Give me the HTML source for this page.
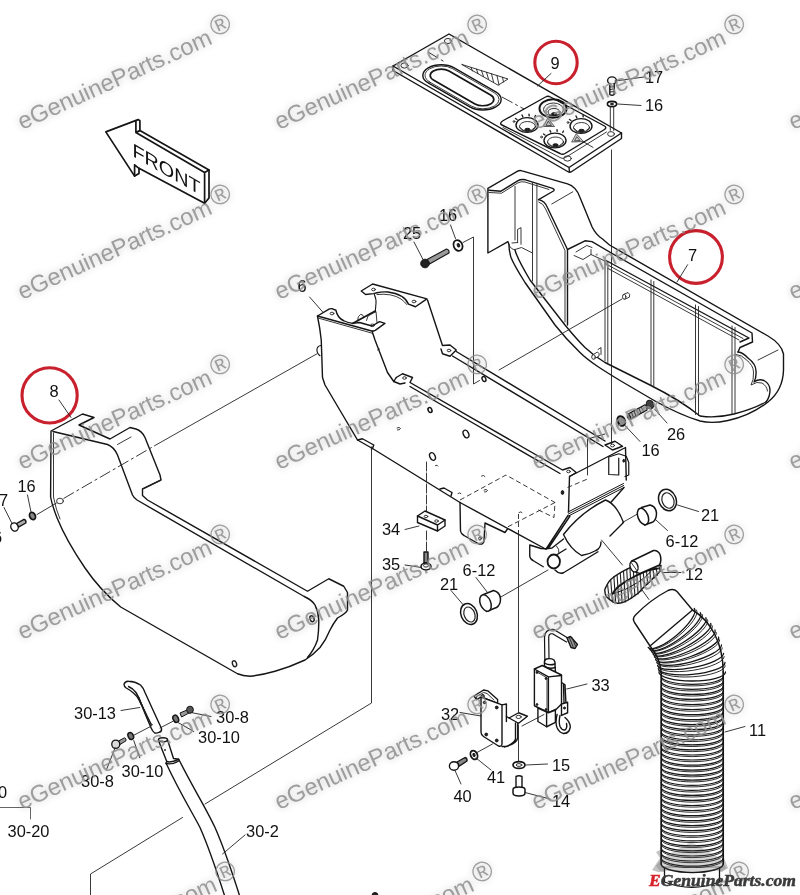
<!DOCTYPE html>
<html><head><meta charset="utf-8"><title>Parts diagram</title>
<style>
html,body{margin:0;padding:0;background:#fff;}
body{width:800px;height:895px;overflow:hidden;position:relative;font-family:"Liberation Sans",sans-serif;}
svg{position:absolute;left:0;top:0;display:block;will-change:transform}
.l{fill:none;stroke:#151515;stroke-width:1.4;stroke-linecap:round;stroke-linejoin:round}
.w{fill:#fff;stroke:#151515;stroke-width:1.4;stroke-linecap:round;stroke-linejoin:round}
.t{fill:none;stroke:#222;stroke-width:0.9;stroke-linecap:round;stroke-linejoin:round}
.tw{fill:#fff;stroke:#222;stroke-width:0.9;stroke-linecap:round;stroke-linejoin:round}
.k{fill:#222;stroke:#151515;stroke-width:1}
.h{fill:none;stroke:#151515;stroke-width:1.7;stroke-linecap:round;stroke-linejoin:round}
.d{fill:none;stroke:#222;stroke-width:0.9;stroke-dasharray:5 3}
.dd{fill:none;stroke:#222;stroke-width:0.9;stroke-dasharray:12 3 3 3}
.lab{font-family:"Liberation Sans",sans-serif;font-size:16.4px;fill:#111;text-anchor:middle}
.rc{fill:none;stroke:#c9202d;stroke-width:3.1}
.wm{font-family:"Liberation Sans",sans-serif;font-size:23.8px;fill:#8e8e8e;fill-opacity:0.85;filter:drop-shadow(0 0 3.5px rgba(0,0,0,0.24))}
</style></head><body>
<svg width="800" height="895" viewBox="0 0 800 895">
<rect width="800" height="895" fill="#fff"/>
<!-- 10_front.svg -->
<g class="h">
<path d="M105.8 131.9 L138.1 119.6 L139.9 120.7 L139.9 130.6 L209 170 L209 198 L204.6 203.3 L139 168.3 L139 173.5 L134.6 176.1 Z" fill="#fff"/>
<path d="M135.9 121 L135.9 132.4 L204.6 172.6 L204.6 203.3 M204.6 172.6 L209 170 M135.9 132.4 L139.9 130.6 M134.6 164.8 L134.6 176.1 M134.6 164.8 L139 168.3"/>
</g>
<text transform="matrix(1.04 0.6 0 1 132.500 156)" style="font-family:'Liberation Sans',sans-serif;font-size:19px;fill:#111">FRONT</text>

<!-- 20_panel9.svg -->
<g id="panel9">
<!-- plate outer with thickness -->
<path class="w" d="M393 66 L449 34 L621.5 133 L621.5 138.5 L571 172 L568.5 172 L393 70.5 Z"/>
<path class="l" d="M393 66 L569 167.5 L621.5 133 M569 167.5 L569.5 172"/>
<!-- corner holes -->
<ellipse class="t" cx="404.5" cy="65.5" rx="3.6" ry="2.6"/>
<ellipse class="t" cx="448" cy="41" rx="3.6" ry="2.6"/>
<ellipse class="t" cx="567.5" cy="158.5" rx="3.8" ry="2.6"/>
<ellipse class="t" cx="611" cy="134" rx="3.4" ry="2.4"/>
<!-- oval slot -->
<g transform="matrix(0.866 0.5 0.866 -0.5 462 87.400)">
<rect class="l" x="-39" y="-15" width="78" height="30" rx="15" ry="15" vector-effect="non-scaling-stroke"/>
<rect class="t" x="-37.300" y="-13.300" width="74.600" height="26.600" rx="13.300" ry="13.300" vector-effect="non-scaling-stroke"/>
<rect class="l" x="-33" y="-9" width="66" height="18" rx="9" ry="9" style="stroke-width:1.700" vector-effect="non-scaling-stroke"/>
</g>
<!-- bar graph wedge -->
<path class="t" d="M462 64.5 L508 79 L498.5 85 Z M471 67.4 L472.5 71 M476.5 69.1 L478 73.6 M481.5 70.7 L483.5 76.4 M486.5 72.3 L488.5 79 M491.5 73.9 L493.5 82 M497 75.6 L499 85 M502.5 77.3 L503.5 82"/>
<!-- dash line through centre -->
<path class="dd" d="M428 52 L444 61.5 M502 97 L524 109 M583 141.5 L594 148"/>
<!-- sub panel -->
<path class="l" d="M501 124.5 Q500 122.5 502.5 121 L545.5 97 Q548 95.5 550.5 97 L604.5 126 Q607 127.5 604.5 129.5 L565 153.5 Q562.5 155 560 153.5 Z"/>
<path class="t" d="M503 127.5 L561 158 Q563 159 565.5 157.5 L606.5 132"/>
<!-- knobs -->
<g>
<ellipse class="l" cx="553" cy="108.5" rx="13.5" ry="9.2" style="stroke-width:2"/>
<ellipse class="t" cx="553.5" cy="109.5" rx="10" ry="6.5"/>
<ellipse class="t" cx="554" cy="112" rx="6" ry="3.6"/>
<ellipse class="k" cx="554" cy="114" rx="2.5" ry="1.3"/>
</g>
<g>
<ellipse class="l" cx="527" cy="125" rx="11" ry="7.4"/>
<ellipse class="t" cx="527.5" cy="126.5" rx="8" ry="5"/>
<path class="t" d="M519.5 127 Q527 136 535.5 127"/>
<ellipse class="k" cx="527.5" cy="129.5" rx="2.6" ry="1.2"/>
</g>
<g>
<ellipse class="l" cx="581" cy="126" rx="11" ry="7.4"/>
<ellipse class="t" cx="581.5" cy="127.5" rx="8" ry="5"/>
<path class="t" d="M573.5 128 Q581 137 589.5 128"/>
<ellipse class="k" cx="581.5" cy="130.5" rx="2.6" ry="1.2"/>
</g>
<g>
<ellipse class="l" cx="555" cy="140.5" rx="11" ry="7.4"/>
<ellipse class="t" cx="555.5" cy="142" rx="8" ry="5"/>
<path class="t" d="M547.5 142.500 Q555 151.500 563.500 142.500"/>
<ellipse class="k" cx="555.5" cy="145" rx="2.6" ry="1.2"/>
</g>
<!-- tick marks around knobs -->
<path class="t" d="M515.5 118.500 l1.500 1 M522 115 l0.800 1.600 M529 114.200 l0.200 1.600 M535.500 115.500 l-0.800 1.500 M569.500 119.500 l1.500 1 M576 116 l0.800 1.600 M583 115.200 l0.200 1.600 M543.500 134 l1.500 1 M550 130.500 l0.800 1.600 M557 129.700 l0.200 1.600 M563.500 131 l-0.800 1.500" style="stroke-width:1.4"/>
<circle class="t" cx="514" cy="121.500" r="0.900"/>
<circle class="t" cx="541.500" cy="137" r="0.900"/>
<circle class="t" cx="568" cy="122.500" r="0.900"/>
<!-- warning triangles -->
<path class="t" d="M548 118.500 L554.500 126.500 L543.500 126.500 Z M548.500 121.500 L551.500 125.500 L546.500 125.500 Z" style="fill:#ccc;stroke-width:0.700"/>
<path class="t" d="M576.500 134 L583.500 141.500 L572 142 Z M577 137 L580 140.500 L575 140.800 Z" style="fill:#ccc;stroke-width:0.700"/>
</g>
<!-- bolt 17 / washer 16 -->
<g id="b17">
<ellipse class="w" cx="612" cy="80.500" rx="4.400" ry="3.600"/>
<path class="w" d="M609.800 83.500 L609.800 94.500 Q612 96 614.200 94.500 L614.200 83.500"/>
<path class="t" d="M609.800 87 L614.200 86.500 M609.800 89.500 L614.200 89 M609.800 92 L614.200 91.500"/>
<ellipse class="w" cx="612" cy="104" rx="4.600" ry="2.600" style="stroke-width:1.6"/>
<ellipse class="k" cx="612" cy="104" rx="1.600" ry="0.800"/>
<path class="t" d="M610.300 107 L610.300 130.500 M613.700 107 L613.700 130.500"/>
<path class="t" d="M611.500 150 L611.500 444"/>
<path class="t" d="M615 81 L644 77 M617.500 104 L641 105.500"/>
</g>
<text class="lab" x="654" y="83">17</text>
<text class="lab" x="654" y="111">16</text>
<!-- red circle 9 -->
<circle class="rc" cx="556" cy="62.500" r="21.200"/>
<text class="lab" x="555" y="68.500">9</text>
<path class="t" d="M551 73.500 L537.500 86"/>

<!-- 30_part7.svg -->
<g id="part7">
<!-- outer silhouette -->
<path class="l" d="M487.900 188.300 L516.800 171.600 Q519.500 170 522 170.800 L567.500 183.900 Q576 186.500 579.800 197 L592 226.800 Q596 235 602.500 239 Q606 242 609.500 245 L768 336 Q781.500 344 783.500 354 L783.500 370 Q783 390 768 402 Q750 416 728 420.500 Q712 424 700 421 Q680 415 655 401 L620 380.500 Q606 372 597 366 Q586 358.500 580 352.500 Q566 339 555 325 L525 282.500 Q514 265 511 257.500 Q509 251 508.900 244.300 L508 241.600 L487.900 253 Z"/>
<!-- flap thickness/inner lines -->
<path class="l" d="M488.800 190.300 L501 191.200 L517.600 180.800 Q521 179 525.500 179.800 L552.600 188.300 Q555 189.500 553.500 191 L538.600 199.600"/>
<path class="t" d="M489 192.500 L501.500 193.200 L518 182.800 Q521 181.200 525 182 L549 189.500"/>
<path class="l" d="M538.600 199.600 Q545 201 547.400 207.500 L567.500 249.500 L567.500 325"/>
<path class="t" d="M538.800 202 Q543.500 203.500 545.600 209 L565 250.500 L565 322"/>
<path class="t" d="M551.800 204 L572.800 191.800"/>
<!-- inner verticals -->
<path class="t" d="M515 186.500 L515 240 M532.500 183 L532.500 281 M536.900 184.500 L536.900 287"/>
<path class="t" d="M517.600 242.500 L517.600 229.400 L521 227.600 L521 244.300 M508.900 244.300 Q511 250 515 249.500 L521.500 247.500 L532.500 253 M512 243 L517.600 242.500"/>
<!-- inner lower curve -->
<path class="l" d="M515 250 Q517 258 530 280 L565 325 Q576 338.500 585 347.500 Q594 356 605 362.500 L650 385 Q680 400 700 416 Q716 418.500 734 414 Q752 409.500 766 402"/>
<!-- top rail lines -->
<path class="l" d="M567.500 249.500 L585 240.800 L592 241.600 L613 254 L752 333 L752.500 342 L740 347.500 L738 352"/>
<path class="t" d="M576 252 L586.800 245.500 L592 247.500 M574 255.500 L583 259.500 L591 254.500 L606 261.500 M591 254.500 L591 249.500"/>
<path class="l" d="M606 260.500 L749 338 L740 342"/>
<path class="t" d="M606 264 L743 338.500"/>
<path class="t" d="M608 268.500 L739 340"/>
<!-- right end inner curve -->
<path class="l" d="M738 352 Q743 352.500 748 358 Q756 364 756 371 Q756.500 378 754 382 Q759 378.500 764 380.500 Q770 384 770 390 Q770 397 766 402"/>
<path class="t" d="M736 354.500 Q742 355 746 359.500 Q753.500 365.500 753.500 372 Q754 380 751 385 Q757 381 762 383 Q767 386 767.500 391"/>
<path class="t" d="M758 360 L778 350"/>
<!-- ribs -->
<path class="t" d="M605 261 L605 361 M607.800 262.500 L607.800 362.500 M651 280 L651 385.500 M653.800 281.500 L653.800 387 M695.500 305 L695.500 414.500 M698.500 306.500 L698.500 415.500 M732 326 L732 414 M735 327.500 L735 413.500"/>
<!-- boss & peg -->
<path class="tw" d="M592.500 355 L597.500 352 Q600 353.500 599 356 L594 359 Z"/>
<ellipse class="tw" cx="593.500" cy="357" rx="1.800" ry="2.200"/>
<path class="t" d="M598 349.500 L601 347.500 L601 354.500"/>
<path class="tw" d="M623.500 294.500 L628 292.500 Q630.500 294 629.500 297 L625 299.200 Z"/>
<ellipse class="tw" cx="624.200" cy="296.800" rx="1.700" ry="2.400"/>
</g>
<circle class="rc" cx="696" cy="257" r="26.400"/>
<text class="lab" x="692.500" y="260.500">7</text>
<path class="t" d="M687.600 264.750 L677 282"/>
<!-- leader line from peg to part6 -->
<path class="t" d="M499 370 L622 299"/>

<!-- 40_part6.svg -->
<g id="part6">
<!-- near-left flange -->
<path class="l" d="M317.500 316 L329 309.200 Q330.600 308.300 332.500 308.800 L335.900 310.250 Q337.500 318 343.750 320.750 Q347 322.500 352.500 323.400 L359.500 322.500 L372 326 L379.600 321.600 L384.900 323.400 L375.250 330.400 L372.600 331.250"/>
<path class="l" d="M317.500 316 L372.600 331.250"/>
<path class="t" d="M318 318 L372.500 333.300"/>
<ellipse class="t" cx="332" cy="313.500" rx="1.900" ry="1.300"/>
<ellipse class="t" cx="372.500" cy="325.300" rx="1.900" ry="1.300"/>
<path class="l" d="M352.500 323.400 L375.250 311" style="stroke-width:1.700"/>
<path class="t" d="M357.750 320 Q357.500 316 360.500 314.500 Q363 314 363.500 316.500 M366.500 320.500 L368 316 L376 311.500 L377 322.500" />
<!-- upper bracket -->
<path class="l" d="M361.250 291 L372.600 284 L426.900 298.900 L415.500 306.750 L408.500 304.100 Q404 294 388 292 Q382 291.500 377 292.750 L373.500 293.600 L365.600 294.500 Z"/>
<path class="t" d="M377 294.500 Q392 293 401 299 Q405 302 406.800 304.500"/>
<ellipse class="t" cx="373.500" cy="289.500" rx="1.900" ry="1.300"/>
<ellipse class="t" cx="414" cy="301.500" rx="1.900" ry="1.300"/>
<path class="l" d="M374.400 294.500 Q376.500 300 376 303.250 L375.250 312" style="stroke-width:1.100"/>
<!-- right side of top bracket and far rail -->
<path class="l" d="M427.500 300 L442.500 345.500 L450 345 L456.250 350 L450 356.250 L442.500 353.750 L441 349"/>
<ellipse class="t" cx="449" cy="350.500" rx="1.800" ry="1.300"/>
<path class="l" d="M456.250 351.500 L605 441"/>
<path class="l" d="M452.500 356 L603 446.500"/>
<!-- left face -->
<path class="l" d="M317.500 316.250 Q320 328 321.250 340 L322.500 377.500 L325 385 L357.500 440 L362.500 438.750 L373.750 445 L372.500 448.500"/>
<path class="l" d="M321 345.500 Q317.500 346 317 349 Q316.500 353 320 355.750" style="stroke-width:1.100"/>
<path class="l" d="M357.500 440 L372.500 448.500 L460 502.500 M371.500 447.500 L371.500 449"/>
<!-- inner wall -->
<path class="l" d="M372.500 332.500 L375 340 L387.500 372.500 L393.750 381.500 L396.250 377.500"/>
<path class="t" d="M377.500 350 L379.500 349"/>
<!-- near rail -->
<path class="l" d="M396.250 377.500 L402.500 373.750 L412.500 377.500 L410 382.500 L562.500 470 L570 467.500 L576.250 472.500 L570 476.250"/>
<path class="l" d="M393.750 381.500 L400 384 L405 383 M410 386.500 L560 473.500"/>
<ellipse class="t" cx="404.500" cy="378" rx="1.800" ry="1.300"/>
<ellipse class="t" cx="568.500" cy="471.500" rx="1.800" ry="1.300"/>
<!-- holes -->
<ellipse class="l" cx="430" cy="410" rx="1.800" ry="2.600" transform="rotate(-25 430 410)" style="stroke-width:1.6"/>
<ellipse class="l" cx="466" cy="434" rx="2.600" ry="4" transform="rotate(-25 466 434)"/>
<ellipse class="l" cx="432.500" cy="456.500" rx="2.600" ry="4" transform="rotate(-25 432.500 456.500)"/>
<ellipse class="l" cx="484" cy="379" rx="1.800" ry="2.600" transform="rotate(-25 484 379)"/>
<path class="t" d="M397 428 q2.500 -1.500 3.500 0.500 q-1 2 -3 1.500 M435.500 465.500 q2 -1 2.500 0.500 M481.500 476 q2.500 -1.500 3.500 0.500 M484 490 q2.500 -1.500 3.500 0.500 q-1 2 -3 1.500 M519 512.500 q2 -1.500 3 0 M458 493.500 q2 -1.500 3 0"/>
<ellipse class="k" cx="562.500" cy="492.500" rx="1.300" ry="2"/>
<!-- end face -->
<path class="l" d="M570 476.250 L625.500 447.500 L626.250 480 M569.500 476.250 L568.500 512"/>
<path class="l" d="M605 445 L615 441.250 L622.500 446.250 L612.500 450 Z"/>
<ellipse class="t" cx="612.500" cy="445.500" rx="2" ry="1.400"/>
<path class="l" d="M608.750 457 L608.750 474.500 L618.750 475 L618.750 458 M608.750 457 L618.750 453.750 L626.250 456.250 L628.750 462.500 L628.750 475 L625 476.500" style="stroke-width:1.200"/>
<ellipse class="k" cx="623.750" cy="460.750" rx="0.900" ry="1.400"/>
<!-- flange lines -->
<path class="l" d="M568 512 L623.500 483.500 M568.300 514 L623.700 485.500 M568.500 516 L624 487.500" style="stroke-width:1"/>
<!-- hood -->
<path class="l" d="M568 515.500 L546.250 548.750 M570 516 L548.500 548 M624 487.500 L610.750 502.500"/>
<path class="l" d="M546.250 548.750 L552 548 L563.500 539"/>
<!-- bottom flange -->
<path class="l" d="M460 502.500 L460.500 531 Q461 534 464 535.500 L478 543.500 Q483.500 545.500 484 541 L485 523 L505 532.500 L507.500 529"/>
<path class="l" d="M460 502.500 L545.500 549"/>
<ellipse class="t" cx="480" cy="538.500" rx="1.300" ry="1.600"/>
<!-- tab on bottom edge -->
<path class="l" d="M440 489 L444 488 L452 492.500 L451 496"/>
<!-- dashed box -->
<path class="d" d="M460 500 L506 475 L555 502.500 L554 517.500 L537.500 509.500 M555 502.500 L507.500 527"/>
<path class="d" d="M567.500 487.500 L587.500 479"/>
<path class="t" d="M587.500 475 L587.500 439 L605 434"/>
<!-- bracket behind small cyl -->
<path class="l" d="M529.750 545 L529.750 556 Q530 559 533 560.500 L543.250 566.750 M529.750 545 L541 548.500 L546.250 548.750"/>
<!-- small cylinder -->
<path class="w" d="M556 554.500 L566 548.500 L598 551.750 L563.500 572.750 Q558 574 554 569 Z" style="stroke:none"/>
<path class="l" d="M556.750 554.750 L566 549 M598 551.750 L563.500 572.750 Q559 574.500 555 570"/>
<path class="t" d="M556.500 546 Q559.500 549 559 553"/>
<ellipse class="w" cx="553.750" cy="561.500" rx="6.200" ry="7" style="stroke-width:1.800"/>
<!-- big cylinder -->
<path class="w" d="M563.500 534.500 Q581 512 605.500 500 Q615.500 504 623.500 522.500 Q610 540 581.500 555.500 Q570 549 563.500 534.500 Z" style="stroke:none"/>
<path class="l" d="M581.500 555.500 Q570 549 563.500 534.500 Q581 512 605.500 500 Q616.500 504 623.500 522.500 L610 536 M601 542 Q601 548 596 550.500 Q590 554 581.500 555.500"/>
</g>
<text class="lab" x="302" y="292">6</text>
<path class="t" d="M309.600 297 L322.750 312"/>

<!-- 50_part8.svg -->
<g id="part8">
<path class="l" d="M51 431 L82.500 414 L94 417.500 L79 425 L110 439 L130 427.500 L136 429 Q142 431 145 437.500 L160 475 L161 480 L142.500 489 L142.500 495.500 L147.500 500 L307.500 591.250 L328.750 578.750 L343.750 586.250 L347.500 592.500 L347.500 610 Q346 613.500 337.500 618 Q333 624 330 630 Q326 640 320 647.500 Q313 655 305 660 Q290 667 275 671.250 Q262 675 250 676.250 Q243 676 237.500 673.750 L120.700 607 Q100 590 85 568 Q66 540 57 517.700 Q52 505 50.600 497 Z"/>
<path class="t" d="M53.500 433 L53.500 497 Q56 510 60 519"/>
<path class="l" d="M53 431.500 L107.500 444.500 Q114 447 117.500 455 L132.500 495 Q134 498 137 500 L303.750 596.250 Q312 600 315 605 Q318.500 612 318.750 620 Q319 630 317.500 640 Q314 650 307.500 657.500"/>
<path class="t" d="M117.500 444.500 L131 437 M142.500 489 L161 480"/>

<ellipse class="t" cx="60" cy="501" rx="3.400" ry="2.800"/>
<ellipse class="t" cx="312" cy="618.750" rx="2" ry="3" transform="rotate(-20 312 618.750)" style="stroke-width:1.400"/>
<ellipse class="t" cx="234.500" cy="663.750" rx="2" ry="3" transform="rotate(-20 234.500 663.750)" style="stroke-width:1.400"/>
</g>
<!-- red circle 8 -->
<circle class="rc" cx="49.600" cy="395.400" r="27.600"/>
<text class="lab" x="54" y="397">8</text>
<path class="t" d="M59 400 L71 417.500"/>
<!-- dash-dot leader -->
<path class="dd" d="M63.500 498.500 L155 445.500"/>
<path class="t" d="M155 445.500 L316.600 354"/>
<path class="t" d="M37 514.500 L56.500 503"/>
<!-- washer 16, bolt 17 left -->
<ellipse class="w" cx="32.500" cy="516" rx="2.800" ry="3.800" transform="rotate(-25 32.500 516)" style="stroke-width:1.800;fill:#888"/>
<path class="w" d="M16.500 523.500 L24 519.300 Q26.500 520 25.800 523 L18.500 527.200 Z" style="fill:#aaa"/>
<ellipse class="w" cx="14.500" cy="527" rx="3.600" ry="4.200" transform="rotate(-25 14.500 527)"/>
<text class="lab" x="26.500" y="491.500">16</text>
<path class="t" d="M27.500 495 L31 512"/>
<text class="lab" x="-1" y="506">17</text>
<path class="t" d="M4 507.500 L11.500 522.500"/>
<text class="lab" x="-2.500" y="543">6</text>

<!-- 55_bolt25.svg -->
<g id="bolt25">
<path class="w" d="M427 259.500 L446.500 249 Q449.500 249.500 449 253 L429.500 264 Z" style="fill:#999;stroke-width:1.100"/>
<circle class="k" cx="425" cy="263.500" r="4.300"/>
<ellipse class="w" cx="458" cy="245.500" rx="4.300" ry="5.600" transform="rotate(-25 458 245.500)" style="stroke-width:1.700"/>
<ellipse class="k" cx="458.500" cy="245.500" rx="1.200" ry="1.800" transform="rotate(-25 458 245.500)"/>
<path class="t" d="M463 242.500 L473.500 237 L473.500 384 L479.500 380.500"/>
<text class="lab" x="412" y="239">25</text>
<path class="t" d="M414 242 L423 259.500"/>
<text class="lab" x="448" y="221">16</text>
<path class="t" d="M450.500 225 L455.500 238.500"/>
</g>
<g id="bolt26">
<path class="w" d="M628.500 413.800 L645 404.800 Q647.500 406 647 410 L630.500 419.300 Z" style="fill:#bbb;stroke-width:1.100"/>
<path class="t" d="M631.500 412.500 L633.500 417.500 M634 411 L636 416 M636.500 409.800 L638.500 414.800 M639 408.500 L641 413.500 M641.500 407.200 L643.500 412.200" style="stroke-width:0.800"/>
<ellipse class="k" cx="650" cy="404.500" rx="3.600" ry="4.400" transform="rotate(-25 650 404.500)" style="fill:#444"/>
<ellipse class="k" cx="629" cy="417" rx="1.500" ry="2.300" transform="rotate(-25 629 417)"/>
<ellipse class="w" cx="621.250" cy="421" rx="3.600" ry="5" transform="rotate(-25 621.250 421)" style="stroke-width:2;fill:#999"/>

<text class="lab" x="676" y="439.500">26</text>
<path class="t" d="M654.500 409 L667 423"/>
<text class="lab" x="650.500" y="455.500">16</text>
<path class="t" d="M625 425.500 L640 441.500"/>
</g>

<!-- 60_small.svg -->
<g id="b34">
<path class="t" d="M426.500 462 L426.500 511 M426.500 531 L426.500 552" style="stroke-dasharray:9 2"/>
<path class="w" d="M417.500 516 L425 511 L445 520 L445 526 L437.500 531 L417.500 522.500 Z"/>
<path class="l" d="M417.500 516 L437.500 525 L445 520 M437.500 525 L437.500 531"/>
<ellipse class="t" cx="426" cy="516.500" rx="1.800" ry="1.200"/>
<ellipse class="t" cx="436.500" cy="521" rx="1.800" ry="1.200"/>
<text class="lab" x="391" y="534.500">34</text>
<path class="t" d="M405 529.500 L419 526"/>
<!-- bolt 35 -->
<path class="w" d="M424 552 L424 563 L428 563 L428 552 Z" style="fill:#888"/>
<ellipse class="w" cx="426" cy="566.500" rx="5" ry="3.400" style="stroke-width:1.500"/>
<ellipse class="t" cx="426" cy="565.500" rx="2.600" ry="1.600"/>
<text class="lab" x="391" y="570">35</text>
<path class="t" d="M405 565 L421.500 567.500"/>
</g>
<g id="ring21a">
<ellipse class="w" cx="469" cy="614" rx="8" ry="10.800" transform="rotate(-22 469 614)" style="stroke-width:1.500"/>
<ellipse class="t" cx="469.500" cy="614.500" rx="5.300" ry="7.800" transform="rotate(-22 469.500 614.500)" style="stroke-width:1.200"/>
<text class="lab" x="449" y="589.500">21</text>
<path class="t" d="M451 590.500 L462.500 604"/>
</g>
<g id="sleeve612a">
<path class="t" d="M500 597.500 L548 570"/>
<path class="w" d="M483.500 594.500 L493.500 590.500 Q500 592 500.500 599 Q500.500 605 496.500 607.500 L486.500 611.500 Z" style="stroke-width:1.500"/>
<ellipse class="w" cx="485.500" cy="603" rx="5.200" ry="8.600" transform="rotate(-22 485.500 603)" style="stroke-width:1.500"/>
<text class="lab" x="479" y="575.500">6-12</text>
<path class="t" d="M476 577.500 L487.500 592.500"/>
</g>
<g id="ring21b">
<ellipse class="w" cx="667.500" cy="500" rx="8.600" ry="11" transform="rotate(-22 667.500 500)" style="stroke-width:1.500"/>
<ellipse class="t" cx="668" cy="500.500" rx="5.800" ry="8" transform="rotate(-22 668 500.500)" style="stroke-width:1.200"/>
<text class="lab" x="710" y="520.500">21</text>
<path class="t" d="M677.500 505 L698.500 511.500"/>
</g>
<g id="sleeve612b">
<path class="t" d="M622.500 522.500 L637.500 514"/>
<g transform="translate(0 3.500)">
<path class="w" d="M641.500 504 L650 501.500 Q656 503 656.500 509.500 Q656.500 516 653 518.500 L644.500 521.500 Z" style="stroke-width:1.500"/>
<ellipse class="w" cx="643" cy="513" rx="5" ry="8.600" transform="rotate(-22 643 513)" style="stroke-width:1.500"/>
</g>
<text class="lab" x="682" y="547">6-12</text>
<path class="t" d="M656 520 L667.500 530.500"/>
</g>
<!-- axis leader from outlet through clamp to hose -->
<path class="t" d="M601.500 540 L622.500 565 M637 583 L649 599.500"/>

<!-- 64_logoshape.svg -->
<path d="M652 870 L660 858 L656 852 L664 848 L672 846 L690 838 L708 846 L716 848 L724 858 L728 868 L722 872 L658 872 Z" fill="#c4c4c4"/>

<!-- 65_hose.py -->
<g id="clamp12">
<path class="w" d="M604.8 589.5 L605.0 589.1 L605.2 588.6 L605.5 587.9 L605.9 587.2 L606.2 586.5 L606.6 585.7 L607.0 584.8 L607.5 584.0 L608.0 583.2 L608.5 582.4 L609.0 581.7 L609.5 581.0 L610.0 580.4 L610.6 579.8 L611.1 579.2 L611.7 578.7 L612.3 578.2 L613.0 577.7 L613.6 577.1 L614.3 576.6 L615.0 576.1 L615.8 575.6 L616.6 575.1 L617.5 574.5 L618.4 573.9 L619.4 573.3 L620.5 572.7 L621.5 572.1 L622.7 571.4 L623.8 570.8 L625.0 570.2 L626.2 569.6 L627.4 569.0 L628.6 568.4 L629.8 567.9 L631.0 567.5 L632.2 567.1 L633.4 566.7 L634.6 566.4 L635.9 566.1 L637.1 565.8 L638.4 565.5 L639.7 565.3 L640.9 565.1 L642.2 564.9 L643.5 564.7 L644.7 564.6 L646.0 564.5 L647.3 564.4 L648.7 564.4 L650.1 564.5 L651.6 564.6 L653.0 564.7 L654.4 564.8 L655.8 565.0 L657.1 565.1 L658.3 565.2 L659.4 565.3 L660.3 565.4 L661.0 565.5 L661.0 565.5 L660.9 565.8 L660.9 566.2 L660.8 566.6 L660.8 567.1 L660.7 567.6 L660.6 568.1 L660.5 568.7 L660.4 569.3 L660.2 569.9 L660.0 570.4 L659.8 571.0 L659.5 571.5 L659.2 572.0 L658.9 572.5 L658.5 572.9 L658.1 573.4 L657.7 573.8 L657.2 574.3 L656.8 574.8 L656.3 575.3 L655.8 575.8 L655.2 576.3 L654.6 576.9 L654.0 577.5 L653.3 578.1 L652.6 578.8 L651.9 579.6 L651.1 580.3 L650.2 581.1 L649.4 581.9 L648.5 582.7 L647.7 583.5 L646.8 584.3 L646.0 585.1 L645.2 585.8 L644.5 586.5 L643.8 587.2 L643.2 587.8 L642.6 588.5 L642.0 589.1 L641.5 589.7 L640.9 590.3 L640.3 591.0 L639.8 591.6 L639.1 592.2 L638.5 592.8 L637.8 593.4 L637.0 594.0 L636.1 594.6 L635.2 595.3 L634.2 596.0 L633.2 596.7 L632.2 597.4 L631.1 598.1 L630.0 598.8 L628.9 599.4 L627.9 600.0 L626.9 600.6 L625.9 601.1 L625.0 601.5 L624.1 601.9 L623.3 602.2 L622.5 602.4 L621.7 602.7 L621.0 602.9 L620.2 603.0 L619.5 603.1 L618.8 603.2 L618.1 603.2 L617.4 603.2 L616.7 603.1 L616.0 603.0 L615.3 602.8 L614.6 602.6 L613.9 602.3 L613.2 601.9 L612.5 601.5 L611.9 601.1 L611.2 600.6 L610.6 600.2 L610.0 599.7 L609.5 599.3 L609.0 598.9 L608.5 598.5 L608.1 598.2 L607.7 597.8 L607.4 597.5 L607.1 597.2 L606.8 596.8 L606.6 596.5 L606.4 596.2 L606.2 595.9 L606.0 595.6 L605.8 595.2 L605.7 594.9 L605.5 594.5 L605.4 594.1 L605.2 593.7 L605.1 593.2 L605.1 592.7 L605.0 592.2 L604.9 591.8 L604.9 591.3 L604.9 590.8 L604.8 590.4 L604.8 590.1 L604.8 589.7 L604.8 589.5 Z" style="stroke-width:1.400"/>
<path class="t" d="M607.5 584.0 L609.3 599.7 M610.7 579.7 L612.5 601.9 M613.9 576.9 L615.7 603.1 M617.1 574.8 L618.9 603.2 M620.3 572.8 L622.1 602.9 M623.5 571.0 L625.3 601.9 M626.7 569.3 L628.5 600.0 M629.9 567.9 L631.7 598.1 M633.1 566.8 L634.9 596.0 M636.3 566.0 L638.1 594.0 M639.5 565.3 L641.3 591.0 M642.7 564.8 L644.5 587.2 M645.9 564.5 L647.7 584.3 M649.1 564.5 L650.9 581.1 M652.3 564.6 L654.1 578.1 M655.5 564.9 L657.3 575.3 M658.7 565.3 L660.5 571.5" style="stroke-width:1.100"/>
<path class="l" d="M612.5 594.0 L612.7 593.7 L612.9 593.3 L613.2 592.9 L613.5 592.4 L613.9 591.9 L614.2 591.4 L614.6 590.8 L615.1 590.2 L615.5 589.6 L616.0 589.1 L616.5 588.5 L617.0 588.0 L617.5 587.5 L618.0 587.0 L618.6 586.6 L619.1 586.1 L619.7 585.6 L620.3 585.1 L621.0 584.7 L621.7 584.2 L622.4 583.7 L623.2 583.1 L624.1 582.6 L625.0 582.0 L626.0 581.4 L627.2 580.7 L628.4 580.0 L629.7 579.2 L631.0 578.5 L632.4 577.7 L633.8 577.0 L635.1 576.2 L636.4 575.5 L637.7 574.9 L638.9 574.3 L640.0 573.8 L641.0 573.3 L642.0 572.8 L642.9 572.4 L643.8 572.1 L644.6 571.8 L645.4 571.5 L646.2 571.2 L647.0 570.9 L647.8 570.7 L648.5 570.4 L649.3 570.2 L650.0 570.0 L650.8 569.8 L651.5 569.6 L652.3 569.4 L653.1 569.3 L653.9 569.1 L654.6 569.0 L655.3 568.9 L656.0 568.8 L656.6 568.7 L657.2 568.6 L657.6 568.6 L658.0 568.5" style="stroke-width:1.900"/>
<path class="l" d="M612.500 594 Q626 590.500 638.500 582 Q646 577 651 571.500" style="stroke-width:1"/>
<path class="w" d="M631.750 561 L653.500 550.500 Q658 550 660 554.500 Q662 560 659.500 565 L640 573.500 Q633 573 631.750 561 Z" style="stroke-width:1.500"/>
<ellipse class="w" cx="634" cy="566.500" rx="3.800" ry="5.600" transform="rotate(-20 634 566.500)" style="stroke-width:1.500"/>
<path class="t" d="M631.500 563 L636.500 570"/>
</g>
<text class="lab" x="694" y="580">12</text>
<path class="t" d="M662.500 572.500 L681 572.500"/>
<g id="hose11">
<path d="M650 646 Q659 660 661.2 672 L661.2 866 L723.2 866 L723.2 670 Q722 640 692.500 610 Z" fill="#fff" stroke="none"/>
<path class="w" d="M650 646 L634.500 622.500 Q632 618.500 635.500 615 Q650 600 668 590.500 Q673.500 588 677 591.500 L692.500 610 Z" style="stroke-width:1.400"/>
<path class="l" d="M648.2 647.5 A30.1 9 -40.3 0 0 694.3 608.5" style="stroke-width:1.3"/>
<path class="l" d="M648.9 648.2 A30.5 9 -38.8 0 0 696.5 609.9" style="stroke-width:0.9"/>
<path class="l" d="M649.9 649.5 A31.2 9 -36.1 0 0 700.3 612.7" style="stroke-width:1.3"/>
<path class="l" d="M650.5 650.2 A31.5 9 -34.7 0 0 702.3 614.4" style="stroke-width:0.9"/>
<path class="l" d="M651.5 651.7 A32.0 9 -32.0 0 0 705.8 617.7" style="stroke-width:1.3"/>
<path class="l" d="M652.1 652.5 A32.2 9 -30.6 0 0 707.6 619.7" style="stroke-width:0.9"/>
<path class="l" d="M653.0 654.0 A32.6 9 -28.0 0 0 710.7 623.4" style="stroke-width:1.3"/>
<path class="l" d="M653.5 654.9 A32.8 9 -26.5 0 0 712.3 625.7" style="stroke-width:0.9"/>
<path class="l" d="M654.4 656.6 A33.1 9 -23.8 0 0 715.0 629.9" style="stroke-width:1.3"/>
<path class="l" d="M654.8 657.6 A33.2 9 -22.3 0 0 716.3 632.4" style="stroke-width:0.9"/>
<path class="l" d="M655.6 659.4 A33.4 9 -19.5 0 0 718.6 637.1" style="stroke-width:1.3"/>
<path class="l" d="M656.0 660.4 A33.5 9 -17.9 0 0 719.7 639.8" style="stroke-width:0.9"/>
<path class="l" d="M656.7 662.3 A33.6 9 -15.0 0 0 721.5 644.9" style="stroke-width:1.3"/>
<path class="l" d="M657.0 663.4 A33.6 9 -13.4 0 0 722.3 647.9" style="stroke-width:0.9"/>
<path class="l" d="M657.6 665.4 A33.6 9 -10.3 0 0 723.6 653.3" style="stroke-width:1.3"/>
<path class="l" d="M657.9 666.5 A33.5 9 -8.6 0 0 724.2 656.5" style="stroke-width:0.9"/>
<path class="l" d="M658.3 668.6 A33.5 9 -5.3 0 0 725.0 662.4" style="stroke-width:1.3"/>
<path class="l" d="M658.6 669.8 A33.4 9 -3.5 0 0 725.3 665.8" style="stroke-width:0.9"/>
<path class="l" d="M658.9 672.0 A33.3 9 0.0 0 0 725.5 672.0" style="stroke-width:1.3"/>
<path class="l" d="M650 646 C655.500 652 659.800 661 661.2 672 M692.500 610 C711 621 723 643 723.2 672" style="stroke-width:1.500"/>
<path class="l" d="M661.2 676.5 A31.0 7.800 0 0 0 723.2 676.5" style="stroke-width:1.2"/>
<path class="l" d="M661.2 678.1 A31.0 7.800 0 0 0 723.2 678.1" style="stroke-width:0.9"/>
<path class="l" d="M661.2 681.5 A31.0 7.800 0 0 0 723.2 681.5" style="stroke-width:1.2"/>
<path class="l" d="M661.2 683.2 A31.0 7.800 0 0 0 723.2 683.2" style="stroke-width:0.9"/>
<path class="l" d="M661.2 686.6 A31.0 7.800 0 0 0 723.2 686.6" style="stroke-width:1.2"/>
<path class="l" d="M661.2 688.2 A31.0 7.800 0 0 0 723.2 688.2" style="stroke-width:0.9"/>
<path class="l" d="M661.2 691.6 A31.0 7.800 0 0 0 723.2 691.6" style="stroke-width:1.2"/>
<path class="l" d="M661.2 693.3 A31.0 7.800 0 0 0 723.2 693.3" style="stroke-width:0.9"/>
<path class="l" d="M661.2 696.7 A31.0 7.800 0 0 0 723.2 696.7" style="stroke-width:1.2"/>
<path class="l" d="M661.2 698.3 A31.0 7.800 0 0 0 723.2 698.3" style="stroke-width:0.9"/>
<path class="l" d="M661.2 701.7 A31.0 7.800 0 0 0 723.2 701.7" style="stroke-width:1.2"/>
<path class="l" d="M661.2 703.4 A31.0 7.800 0 0 0 723.2 703.4" style="stroke-width:0.9"/>
<path class="l" d="M661.2 706.8 A31.0 7.800 0 0 0 723.2 706.8" style="stroke-width:1.2"/>
<path class="l" d="M661.2 708.4 A31.0 7.800 0 0 0 723.2 708.4" style="stroke-width:0.9"/>
<path class="l" d="M661.2 711.8 A31.0 7.800 0 0 0 723.2 711.8" style="stroke-width:1.2"/>
<path class="l" d="M661.2 713.5 A31.0 7.800 0 0 0 723.2 713.5" style="stroke-width:0.9"/>
<path class="l" d="M661.2 716.9 A31.0 7.800 0 0 0 723.2 716.9" style="stroke-width:1.2"/>
<path class="l" d="M661.2 718.5 A31.0 7.800 0 0 0 723.2 718.5" style="stroke-width:0.9"/>
<path class="l" d="M661.2 721.9 A31.0 7.800 0 0 0 723.2 721.9" style="stroke-width:1.2"/>
<path class="l" d="M661.2 723.6 A31.0 7.800 0 0 0 723.2 723.6" style="stroke-width:0.9"/>
<path class="l" d="M661.2 727.0 A31.0 7.800 0 0 0 723.2 727.0" style="stroke-width:1.2"/>
<path class="l" d="M661.2 728.6 A31.0 7.800 0 0 0 723.2 728.6" style="stroke-width:0.9"/>
<path class="l" d="M661.2 732.0 A31.0 7.800 0 0 0 723.2 732.0" style="stroke-width:1.2"/>
<path class="l" d="M661.2 733.7 A31.0 7.800 0 0 0 723.2 733.7" style="stroke-width:0.9"/>
<path class="l" d="M661.2 737.1 A31.0 7.800 0 0 0 723.2 737.1" style="stroke-width:1.2"/>
<path class="l" d="M661.2 738.7 A31.0 7.800 0 0 0 723.2 738.7" style="stroke-width:0.9"/>
<path class="l" d="M661.2 742.1 A31.0 7.800 0 0 0 723.2 742.1" style="stroke-width:1.2"/>
<path class="l" d="M661.2 743.8 A31.0 7.800 0 0 0 723.2 743.8" style="stroke-width:0.9"/>
<path class="l" d="M661.2 747.2 A31.0 7.800 0 0 0 723.2 747.2" style="stroke-width:1.2"/>
<path class="l" d="M661.2 748.8 A31.0 7.800 0 0 0 723.2 748.8" style="stroke-width:0.9"/>
<path class="l" d="M661.2 752.2 A31.0 7.800 0 0 0 723.2 752.2" style="stroke-width:1.2"/>
<path class="l" d="M661.2 753.9 A31.0 7.800 0 0 0 723.2 753.9" style="stroke-width:0.9"/>
<path class="l" d="M661.2 757.3 A31.0 7.800 0 0 0 723.2 757.3" style="stroke-width:1.2"/>
<path class="l" d="M661.2 758.9 A31.0 7.800 0 0 0 723.2 758.9" style="stroke-width:0.9"/>
<path class="l" d="M661.2 762.3 A31.0 7.800 0 0 0 723.2 762.3" style="stroke-width:1.2"/>
<path class="l" d="M661.2 764.0 A31.0 7.800 0 0 0 723.2 764.0" style="stroke-width:0.9"/>
<path class="l" d="M661.2 767.4 A31.0 7.800 0 0 0 723.2 767.4" style="stroke-width:1.2"/>
<path class="l" d="M661.2 769.0 A31.0 7.800 0 0 0 723.2 769.0" style="stroke-width:0.9"/>
<path class="l" d="M661.2 772.4 A31.0 7.800 0 0 0 723.2 772.4" style="stroke-width:1.2"/>
<path class="l" d="M661.2 774.1 A31.0 7.800 0 0 0 723.2 774.1" style="stroke-width:0.9"/>
<path class="l" d="M661.2 777.5 A31.0 7.800 0 0 0 723.2 777.5" style="stroke-width:1.2"/>
<path class="l" d="M661.2 779.1 A31.0 7.800 0 0 0 723.2 779.1" style="stroke-width:0.9"/>
<path class="l" d="M661.2 782.5 A31.0 7.800 0 0 0 723.2 782.5" style="stroke-width:1.2"/>
<path class="l" d="M661.2 784.2 A31.0 7.800 0 0 0 723.2 784.2" style="stroke-width:0.9"/>
<path class="l" d="M661.2 787.6 A31.0 7.800 0 0 0 723.2 787.6" style="stroke-width:1.2"/>
<path class="l" d="M661.2 789.2 A31.0 7.800 0 0 0 723.2 789.2" style="stroke-width:0.9"/>
<path class="l" d="M661.2 792.6 A31.0 7.800 0 0 0 723.2 792.6" style="stroke-width:1.2"/>
<path class="l" d="M661.2 794.3 A31.0 7.800 0 0 0 723.2 794.3" style="stroke-width:0.9"/>
<path class="l" d="M661.2 797.7 A31.0 7.800 0 0 0 723.2 797.7" style="stroke-width:1.2"/>
<path class="l" d="M661.2 799.3 A31.0 7.800 0 0 0 723.2 799.3" style="stroke-width:0.9"/>
<path class="l" d="M661.2 802.7 A31.0 7.800 0 0 0 723.2 802.7" style="stroke-width:1.2"/>
<path class="l" d="M661.2 804.4 A31.0 7.800 0 0 0 723.2 804.4" style="stroke-width:0.9"/>
<path class="l" d="M661.2 807.8 A31.0 7.800 0 0 0 723.2 807.8" style="stroke-width:1.2"/>
<path class="l" d="M661.2 809.4 A31.0 7.800 0 0 0 723.2 809.4" style="stroke-width:0.9"/>
<path class="l" d="M661.2 812.8 A31.0 7.800 0 0 0 723.2 812.8" style="stroke-width:1.2"/>
<path class="l" d="M661.2 814.5 A31.0 7.800 0 0 0 723.2 814.5" style="stroke-width:0.9"/>
<path class="l" d="M661.2 817.9 A31.0 7.800 0 0 0 723.2 817.9" style="stroke-width:1.2"/>
<path class="l" d="M661.2 819.5 A31.0 7.800 0 0 0 723.2 819.5" style="stroke-width:0.9"/>
<path class="l" d="M661.2 822.9 A31.0 7.800 0 0 0 723.2 822.9" style="stroke-width:1.2"/>
<path class="l" d="M661.2 824.6 A31.0 7.800 0 0 0 723.2 824.6" style="stroke-width:0.9"/>
<path class="l" d="M661.2 828.0 A31.0 7.800 0 0 0 723.2 828.0" style="stroke-width:1.2"/>
<path class="l" d="M661.2 829.6 A31.0 7.800 0 0 0 723.2 829.6" style="stroke-width:0.9"/>
<path class="l" d="M661.2 833.0 A31.0 7.800 0 0 0 723.2 833.0" style="stroke-width:1.2"/>
<path class="l" d="M661.2 834.7 A31.0 7.800 0 0 0 723.2 834.7" style="stroke-width:0.9"/>
<path class="l" d="M661.2 838.1 A31.0 7.800 0 0 0 723.2 838.1" style="stroke-width:1.2"/>
<path class="l" d="M661.2 839.7 A31.0 7.800 0 0 0 723.2 839.7" style="stroke-width:0.9"/>
<path class="l" d="M661.2 843.1 A31.0 7.800 0 0 0 723.2 843.1" style="stroke-width:1.2"/>
<path class="l" d="M661.2 844.8 A31.0 7.800 0 0 0 723.2 844.8" style="stroke-width:0.9"/>
<path class="l" d="M661.2 848.2 A31.0 7.800 0 0 0 723.2 848.2" style="stroke-width:1.2"/>
<path class="l" d="M661.2 849.8 A31.0 7.800 0 0 0 723.2 849.8" style="stroke-width:0.9"/>
<path class="l" d="M661.2 853.2 A31.0 7.800 0 0 0 723.2 853.2" style="stroke-width:1.2"/>
<path class="l" d="M661.2 854.9 A31.0 7.800 0 0 0 723.2 854.9" style="stroke-width:0.9"/>
<path class="l" d="M661.2 858.3 A31.0 7.800 0 0 0 723.2 858.3" style="stroke-width:1.2"/>
<path class="l" d="M661.2 859.9 A31.0 7.800 0 0 0 723.2 859.9" style="stroke-width:0.9"/>
<path class="l" d="M661.2 672 L661.2 864 M723.2 672 L723.2 864" style="stroke-width:1.700"/>
<path class="w" d="M664.500 868 L664.500 882 Q692 892.500 719.500 882 L719.500 868" style="stroke-width:1.300"/>
<path class="l" d="M661.2 864 A31.0 8.500 0 0 0 723.2 864" style="stroke-width:1.500"/>
</g>
<text class="lab" x="757.500" y="735.500">11</text>
<path class="t" d="M725 732 L745 726.500"/>
<!-- 70_switch.svg -->
<g id="bracket32">
<!-- top tab -->
<path class="w" d="M474 696 L483.600 690 L488 690.900 L497.600 699.600 L497.600 703.500 L481 697 L476.600 699.600 Z"/>
<path class="t" d="M476.600 699.600 L476.600 696.500 L483.500 692.500 L487 693.500 L494 700"/>
<ellipse class="k" cx="482.750" cy="696.200" rx="1.500" ry="1.800" style="fill:#666"/>
<!-- plate -->
<path class="w" d="M481 697 L502 704.900 L502 744 Q501.500 747 498.500 746 L483.500 736.500 Q481 735 481 732 Z"/>
<path class="l" d="M502 704.900 L506.400 704 L506.400 721.500 M502 746.500 L506 746.500 Q516.500 743.500 517.750 738 L517.750 723.500 M504.500 747 Q514 744 515.500 739 L515.500 723"/>
<!-- shelf -->
<path class="w" d="M509 718 L518.600 712.750 L527.400 716.250 L518.600 723.250 Z"/>
<ellipse class="t" cx="518.600" cy="716.900" rx="2.600" ry="1.600"/>
<path class="l" d="M506.400 716.500 L509 718"/>
<!-- plate holes -->
<circle class="k" cx="496.750" cy="707.500" r="1.400"/>
<circle class="k" cx="486.250" cy="734.500" r="1.400"/>
<circle class="k" cx="496.750" cy="740.500" r="1.400"/>
<circle class="k" cx="484.500" cy="702.500" r="1.200" style="fill:#777"/>
</g>
<text class="lab" x="450" y="719.500">32</text>
<path class="t" d="M460 712.500 L481 716"/>
<g id="switch33">
<!-- cable -->
<path d="M547 665 L546.600 637.500 Q546.500 631.500 552.750 631.400 L568 640.500" fill="none" stroke="#151515" stroke-width="5.400" stroke-linejoin="round"/>
<path d="M547 665 L546.600 637.500 Q546.500 631.500 552.750 631.400 L568 640.500" fill="none" stroke="#fff" stroke-width="3" stroke-linejoin="round"/>
<path class="w" d="M567 638 L570.500 636.500 L577.500 644.500 L575 648.500 L571 647.500 Z" style="fill:#999"/>
<path class="t" d="M569.500 638 L573 646.500 M572 637.500 L575.500 646"/>
<!-- boot -->
<path class="w" d="M544.500 663 Q544 660 546.500 659 Q551 658 554 660 Q555.500 662 555 665 L555.500 672 L544.500 668 Z"/>
<path class="l" d="M544.500 663 Q549 666 555 664 M544.300 666 Q549 669.500 555.300 667.500" style="stroke-width:1.500"/>
<!-- body -->
<path class="w" d="M534.400 669 L542.250 665.500 L561.500 675 L561.500 704 L556.250 709.250 L548.400 712.750 L534.400 705.750 Z"/>
<path class="l" d="M534.400 669 L548.400 676.900 L561.500 675.500 M548.400 676.900 L548.400 712.750"/>
<path class="t" d="M536 671.500 L547 677.800 L547 710.500"/>
<circle class="k" cx="537" cy="672.500" r="0.900"/>
<circle class="k" cx="546" cy="678.500" r="0.900"/>
<circle class="k" cx="537" cy="704.500" r="0.900"/>
<circle class="k" cx="546" cy="709.500" r="0.900"/>
<!-- lower block -->
<path class="w" d="M537.900 708 L537.900 721.500 L546.600 726.750 L555.400 722.400 L555.400 710 L548.400 712.750 Z"/>
<path class="l" d="M546.600 712.500 L546.600 726.750"/>
<!-- lever and roller -->
<path class="l" d="M562.400 683 L565 684.750 L565.900 702.250 M563.500 684 L564 702.500"/>
<path class="w" d="M561.500 704 L567.600 702.250 L567.600 712.750 L561.500 715.400 Z"/>
<circle class="k" cx="564.500" cy="708" r="1"/>
<path class="l" d="M557.100 714.500 Q555 722 557 727.500 Q559 732.500 563.500 733.500 Q569 733.500 570.250 727.500 Q570.500 722 565 717.500 M560 715.500 Q558.500 722 560 726.500 Q562 730.500 565 730 Q567.500 728 566.500 723.500"/>
</g>
<text class="lab" x="600.500" y="690.500">33</text>
<path class="t" d="M566.750 689 L587 684"/>
<!-- line switch to bracket -->
<path class="t" d="M522 726 L544 714.500"/>
<!-- vertical leader through shelf -->
<path class="d" d="M518.500 514 L518.500 532" />
<path class="t" d="M518.500 532 L518.500 712 M518.500 725 L518.500 761"/>
<!-- washer 15 & bolt 14 -->
<ellipse class="w" cx="519" cy="765" rx="6" ry="3.400" style="stroke-width:1.700"/>
<ellipse class="t" cx="519" cy="765" rx="2.800" ry="1.400"/>
<text class="lab" x="561" y="770.500">15</text>
<path class="t" d="M526 765 L547.500 764"/>
<path class="w" d="M516 776.500 Q519 775 522 776.500 L522 788 L516 788 Z"/>
<path class="w" d="M513 789.500 Q513 787 519 787 Q525 787 525 789.500 L525 793 Q525 796 519 796 Q513 796 513 793 Z" style="stroke-width:1.500"/>
<text class="lab" x="561" y="806.500">14</text>
<path class="t" d="M525 792.500 L550 799"/>
<!-- bolt 40, washer 41 -->
<path class="w" d="M457 762 L465 757.500 Q467.500 758 467 761 L459.500 766 Z" style="fill:#888"/>
<ellipse class="w" cx="454" cy="766" rx="4.600" ry="4.200" style="stroke-width:1.400"/>
<ellipse class="w" cx="474" cy="755" rx="3.300" ry="4.600" transform="rotate(-25 474 755)" style="stroke-width:1.800"/>
<ellipse class="k" cx="474" cy="755" rx="1" ry="1.600" transform="rotate(-25 474 755)"/>
<path class="t" d="M477 752.500 L492.500 744"/>
<text class="lab" x="462.500" y="801.500">40</text>
<path class="t" d="M455 770.500 L461 784"/>
<text class="lab" x="496" y="783">41</text>
<path class="t" d="M476 758 L491 770"/>

<!-- 75_handle.svg -->
<g id="rod302">
<path class="w" d="M158.500 740.500 L166.750 761.500 L166 763 C180 793 192 812 200 827.500 C210 850 218 875 225 897 L240 897 C233 875 225 850 215 827.500 C206 808 192 786 178.750 759.250 L173.500 758.500 L167.500 739.750 Z"/>
<path class="l" d="M166.750 761.500 Q171 763 178.750 759.250 M166 763.500 Q172 765 178.700 761"/>
<ellipse class="w" cx="163" cy="739.750" rx="4.500" ry="2"/>
<circle class="k" cx="165" cy="750" r="0.500"/>
</g>
<g id="handle3013">
<path class="w" d="M124 684.250 Q125 681 128.500 681.250 Q135 681.500 140.500 685 Q143.500 688 145 692.500 L152.500 709 L161.500 728.500 Q162 731.500 159.250 732.250 Q157 733.500 154.750 733 Q152.500 731.500 151 727.750 L145 713.500 Q142 705 139 700 Q137 696 133.750 693.250 Q130 690 126.250 688 Q124 686.500 124 684.250 Z"/>
<path class="l" d="M128.500 686.500 Q133 688.500 136 692.500 Q139 697 141.250 704.500 L151 724"/>
<path class="t" d="M139 697.500 L149.500 721.500" style="stroke-dasharray:1 1.600;stroke-width:1.200"/>
<circle class="t" cx="151" cy="724.750" r="1"/>
</g>
<!-- bolts / washers -->
<path class="t" d="M133.750 735.250 L151 726.250 M160 728 L173.500 721"/>
<ellipse class="k" cx="130.750" cy="736" rx="2.600" ry="3.600" transform="rotate(-25 130.750 736)" style="fill:#777;stroke-width:1.500"/>
<path class="k" d="M118.500 741 L124.500 737.800 Q126.500 738.500 126 740.800 L120 744.500 Z" style="fill:#999"/>
<ellipse class="w" cx="115.750" cy="744.250" rx="4" ry="4.200" style="stroke-width:1.300;fill:#ddd"/>
<ellipse class="k" cx="175.750" cy="718.750" rx="2.600" ry="3.800" transform="rotate(-25 175.750 718.750)" style="fill:#777;stroke-width:1.500"/>
<path class="k" d="M180 713 L187.500 709.800 L189 713 L181.500 717 Z" style="fill:#999"/>
<ellipse class="k" cx="190" cy="709.750" rx="3.400" ry="3.600" style="fill:#555"/>
<text class="lab" x="95" y="718.500">30-13</text>
<path class="t" d="M121 710.500 L139.750 707.500"/>
<text class="lab" x="232.500" y="723">30-8</text>
<path class="t" d="M192.250 712.750 L211 716.500"/>
<text class="lab" x="219" y="743">30-10</text>
<path class="t" d="M178 722.500 L193.750 731.500"/>
<text class="lab" x="142.500" y="776.500">30-10</text>
<path class="t" d="M133.750 740.500 L139.750 757.750"/>
<text class="lab" x="97.500" y="786.500">30-8</text>
<path class="t" d="M115 748 L106.750 769"/>
<text class="lab" x="262.500" y="836.500">30-2</text>
<path class="t" d="M245 835 L222.500 854"/>
<text class="lab" x="28.500" y="836.500">30-20</text>
<path class="t" d="M0 807.500 L30.500 807.500 L30.500 819" style="stroke:#555"/>
<text class="lab" x="-2" y="798">10</text>
<!-- long leaders -->
<path class="t" d="M90.500 897 L90.500 874 L182.500 817.500 M205 804 L371.500 703 L371.500 447"/>
<circle class="k" cx="375" cy="895.500" r="3"/>

<!-- 90_watermark.py -->
<g class="wm">
<text transform="translate(22 130) rotate(-24.300)">eGenuineParts.com<tspan dx="3.500" dy="-5" style="font-size:28px">®</tspan></text>
<text transform="translate(279 130) rotate(-24.300)">eGenuineParts.com<tspan dx="3.500" dy="-5" style="font-size:28px">®</tspan></text>
<text transform="translate(536 130) rotate(-24.300)">eGenuineParts.com<tspan dx="3.500" dy="-5" style="font-size:28px">®</tspan></text>
<text transform="translate(793 130) rotate(-24.300)">eGenuineParts.com<tspan dx="3.500" dy="-5" style="font-size:28px">®</tspan></text>
<text transform="translate(22 300) rotate(-24.300)">eGenuineParts.com<tspan dx="3.500" dy="-5" style="font-size:28px">®</tspan></text>
<text transform="translate(279 300) rotate(-24.300)">eGenuineParts.com<tspan dx="3.500" dy="-5" style="font-size:28px">®</tspan></text>
<text transform="translate(536 300) rotate(-24.300)">eGenuineParts.com<tspan dx="3.500" dy="-5" style="font-size:28px">®</tspan></text>
<text transform="translate(793 300) rotate(-24.300)">eGenuineParts.com<tspan dx="3.500" dy="-5" style="font-size:28px">®</tspan></text>
<text transform="translate(22 470) rotate(-24.300)">eGenuineParts.com<tspan dx="3.500" dy="-5" style="font-size:28px">®</tspan></text>
<text transform="translate(279 470) rotate(-24.300)">eGenuineParts.com<tspan dx="3.500" dy="-5" style="font-size:28px">®</tspan></text>
<text transform="translate(536 470) rotate(-24.300)">eGenuineParts.com<tspan dx="3.500" dy="-5" style="font-size:28px">®</tspan></text>
<text transform="translate(793 470) rotate(-24.300)">eGenuineParts.com<tspan dx="3.500" dy="-5" style="font-size:28px">®</tspan></text>
<text transform="translate(22 640) rotate(-24.300)">eGenuineParts.com<tspan dx="3.500" dy="-5" style="font-size:28px">®</tspan></text>
<text transform="translate(279 640) rotate(-24.300)">eGenuineParts.com<tspan dx="3.500" dy="-5" style="font-size:28px">®</tspan></text>
<text transform="translate(536 640) rotate(-24.300)">eGenuineParts.com<tspan dx="3.500" dy="-5" style="font-size:28px">®</tspan></text>
<text transform="translate(793 640) rotate(-24.300)">eGenuineParts.com<tspan dx="3.500" dy="-5" style="font-size:28px">®</tspan></text>
<text transform="translate(22 810) rotate(-24.300)">eGenuineParts.com<tspan dx="3.500" dy="-5" style="font-size:28px">®</tspan></text>
<text transform="translate(279 810) rotate(-24.300)">eGenuineParts.com<tspan dx="3.500" dy="-5" style="font-size:28px">®</tspan></text>
<text transform="translate(536 810) rotate(-24.300)">eGenuineParts.com<tspan dx="3.500" dy="-5" style="font-size:28px">®</tspan></text>
<text transform="translate(793 810) rotate(-24.300)">eGenuineParts.com<tspan dx="3.500" dy="-5" style="font-size:28px">®</tspan></text>
<text transform="translate(27 977) rotate(-24.300)">eGenuineParts.com<tspan dx="3.500" dy="-5" style="font-size:28px">®</tspan></text>
<text transform="translate(284 977) rotate(-24.300)">eGenuineParts.com<tspan dx="3.500" dy="-5" style="font-size:28px">®</tspan></text>
<text transform="translate(541 977) rotate(-24.300)">eGenuineParts.com<tspan dx="3.500" dy="-5" style="font-size:28px">®</tspan></text>
<text transform="translate(798 977) rotate(-24.300)">eGenuineParts.com<tspan dx="3.500" dy="-5" style="font-size:28px">®</tspan></text>
</g>
<!-- 95_logo.svg -->
<g id="logo">
<path d="M662 858 L691 842 L720 858 L726 868 L722 871 L660 871 L656 866 Z" fill="#555" opacity="0.250"/>
<text x="649" y="886" style="font-family:'Liberation Serif',serif;font-weight:bold;font-style:italic;font-size:17px;fill:#3a3a3a;stroke:#3a3a3a;stroke-width:0.500" textLength="147" lengthAdjust="spacingAndGlyphs"><tspan style="fill:#d8232a;stroke:#d8232a">E</tspan>GenuineParts.com</text>
</g>

</svg>
</body></html>
